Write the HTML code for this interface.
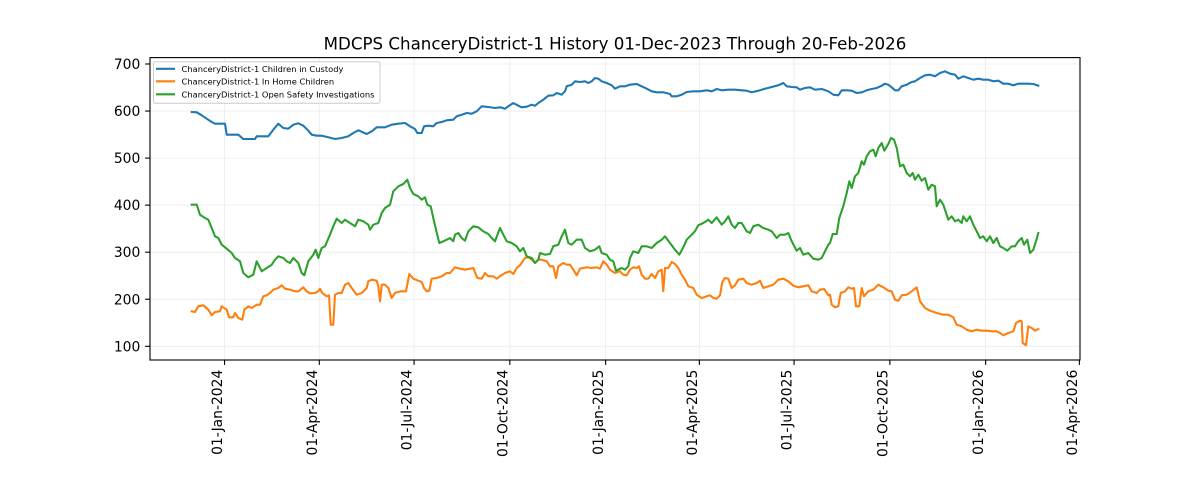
<!DOCTYPE html>
<html><head><meta charset="utf-8"><style>
html,body{margin:0;padding:0;background:#fff;}
svg{display:block;}
text{font-family:"DejaVu Sans","Liberation Sans",sans-serif;fill:#000;}
</style></head><body>
<svg width="1200" height="480" viewBox="0 0 1200 480" xmlns="http://www.w3.org/2000/svg">
<rect x="0" y="0" width="1200" height="480" fill="#fff"/>
<!-- grid -->
<g stroke="#ebebeb" stroke-width="0.8">
<line x1="224.55" y1="57.6" x2="224.55" y2="360"/>
<line x1="319.3" y1="57.6" x2="319.3" y2="360"/>
<line x1="414.05" y1="57.6" x2="414.05" y2="360"/>
<line x1="509.84" y1="57.6" x2="509.84" y2="360"/>
<line x1="605.63" y1="57.6" x2="605.63" y2="360"/>
<line x1="699.34" y1="57.6" x2="699.34" y2="360"/>
<line x1="794.09" y1="57.6" x2="794.09" y2="360"/>
<line x1="889.88" y1="57.6" x2="889.88" y2="360"/>
<line x1="985.67" y1="57.6" x2="985.67" y2="360"/>
<line x1="150" y1="346.3" x2="1080" y2="346.3"/>
<line x1="150" y1="299.25" x2="1080" y2="299.25"/>
<line x1="150" y1="252.2" x2="1080" y2="252.2"/>
<line x1="150" y1="205.15" x2="1080" y2="205.15"/>
<line x1="150" y1="158.1" x2="1080" y2="158.1"/>
<line x1="150" y1="111.05" x2="1080" y2="111.05"/>
<line x1="150" y1="64" x2="1080" y2="64"/>
</g>
<!-- series -->
<g fill="none" stroke-width="2.08" stroke-linejoin="round" stroke-linecap="square">
<polyline stroke="#1f77b4" points="191.7,112 196.7,112.3 201.7,115.3 206.7,118.7 211.7,122 215,123.7 225,123.7 226.7,134.7 238.3,134.7 243.3,139 255,139 256.7,136.3 268.3,136.3 273.3,129.7 278.3,123.7 283.3,128 288.3,128.7 293.3,124.7 298.3,123.3 303.3,125.7 308.3,130.7 311.7,134.7 316.7,135.7 321.7,135.7 328.3,137.3 335,139 341.7,138 348.3,136.3 353.3,133 358.3,130.3 366.7,134 371.7,131.3 376.7,127.3 385,127.3 391.7,124.7 398.3,123.7 405,123 410,126.3 415,129 417.3,133 421.7,133 424,126.3 428.3,125.7 433.3,126.3 436.7,123 441.7,122 446.7,120.3 453.3,119.7 456.7,116.3 461.7,114.7 466.7,113 471.7,113.7 476.7,111.3 481.7,106.3 488.3,107 495,108 500,107.3 505,108.7 508.3,106.3 513.3,103 518.3,105.7 521.7,107.3 526.7,106.7 531.7,104.7 535,105.7 538.3,103 543.3,99.7 548.3,95.7 553.3,95.3 556.7,93 561.7,94.7 565,91.3 566.7,86.3 571.7,84.7 575,81.3 580,82 585,81.3 588.3,83 591.7,81.3 595,78 598.3,78.7 601.7,81.3 606.7,83 611.7,85.3 615,88.7 620,86.3 625,86.3 630,84.7 636.7,84 641.7,86.3 646.7,88.7 651.7,91.3 656.7,92.3 663.3,92.3 670,94 671.7,96.3 676.7,96.3 681.7,94.7 686.7,92 693.3,91.3 700,91.3 706.7,90.3 711.7,91.3 716.7,89 721.7,90.3 728.3,89.7 735,89.7 741.7,90.3 746.7,90.7 751.7,92.3 758.3,90.7 765,88.7 771.7,87 778.3,85.3 783.3,83 786.7,86.3 791.7,87 796.7,87.3 800,89.7 805,88 810,87.3 815,89.7 821.7,89 828.3,91.3 833.3,94.7 838.3,95.3 841.7,90.3 846.7,90.3 851.7,90.7 856.7,93 861.7,92.3 866.7,90.3 871.7,89 876.7,88 881.7,85.7 885,83.7 888.3,84.7 891.7,87.3 895,90.3 898.3,90.3 901.7,86.3 906.7,84.7 911.7,82 915,81.3 920,78 925,75.3 930,74.7 935,76.3 940,73 945,71.3 950,73.7 955,74.7 958.3,78.7 963.3,76.3 968.3,78 973.3,79.7 978.3,78.7 983.3,79.7 988.3,79.7 993.3,81.3 998.3,80.7 1003.3,83.7 1008.3,83.7 1013.3,85.3 1018.3,83.7 1023.3,83.7 1028.3,83.7 1033.3,84 1038.3,85.7"/>
<polyline stroke="#ff7f0e" points="191.7,311.3 195,312 198.3,306.3 203.3,305.3 208.3,309.7 211.7,315.3 215,312 220,311.3 221.7,306.3 226.7,309.7 229,317.3 233.3,317.3 235,313 238.3,318 242.3,319.7 244.3,309.7 248.3,306.3 251.7,308 256.7,304.7 260,304.7 263.3,296.3 266.7,295.3 270,293 273.3,289.7 278.3,288 281.7,285.3 285,288.7 290,289.7 295,291.3 298.3,291.3 303.3,287.3 306.7,291.3 310,293.3 315,293 318.3,291.3 320,288.7 322.3,293 326.7,296.3 329,295.3 330.7,324.7 333.3,324.7 335,294.7 338.3,293 341.7,293 345,284.7 348.3,283 351.7,288 356.7,294.7 361.7,293 366.7,288 368.3,281.3 371.7,279.7 376.7,280.7 378.3,286.3 380,301.3 381.7,284.7 385,284.7 388.3,288 391.7,298 395,293 400,291.3 406,291.3 409.3,274 413.3,278.7 418.3,280.7 421.7,282 424,288 426.7,291.3 429.3,290.7 431.7,278.7 436.7,278 441.7,276.3 446.7,273 450,273 455,267.3 460,268.7 465,269.7 470,268.7 473.3,268 477.3,278 481.7,278.7 485,273 488.3,276.3 493.3,276.3 496.7,278.7 500,276.3 505,273 510,271.3 513.3,274 516.7,268 520,265.3 525,258 528.3,257.3 531.7,259.7 535,263 538.3,259.7 541.7,259.7 546.7,261.3 550,266.3 553.3,266.3 556,278 558.3,266.3 563.3,263 566.7,264.7 570,264.7 573.3,269.7 576.7,275.3 580,268.7 586.7,267.3 591.7,268 596.7,267.3 600,268.7 603.3,261.3 606.7,264.7 610,269.7 615,273 620,271.3 623.3,274.7 626.7,275.3 630,269.7 633.3,267.3 636.7,268 639,266.3 641.7,274.7 645,278.7 648.3,278.7 651.7,274 655,278 658.3,271.3 661.7,269.7 663.3,291.3 665,268 668.3,268 671.7,262 675,264 678.3,268 681.7,274.7 685,279.7 688.3,286.3 693.3,288 696.7,294.7 701.7,298 706.7,296.3 710,295.3 713.3,298 716.7,298.7 720,295.3 722.3,282 725,278 728.3,278.7 731.7,288 735,285.3 738.3,279.7 743.3,278.7 746.7,283 751.7,284.7 756.7,283 760,280.7 763.3,288 768.3,286.3 773.3,284.7 778.3,279.7 783.3,278.7 788.3,281.3 793.3,285.7 798.3,287.3 803.3,286.3 808.3,285.3 811.7,291.3 816.7,293 820,289.7 824.3,289 828.3,295.3 830,294.7 831.7,304.7 835,307.3 838.3,306.3 840.7,293 845,291.3 848.3,287.3 851.7,288.7 854,288 856,306.3 859.3,306.3 861.7,288 864,296.3 868.3,291.3 873.3,289.7 878.3,284.7 883.3,287.3 888.3,290.7 891.7,291.3 895,299.7 898.3,300.7 901.7,295.3 906.7,294.7 911.7,291.3 916.7,287.3 920,301.3 925,308 930,310.7 936.7,313 943.3,314.7 948.3,314.7 953.3,317.3 956.7,324.7 961.7,326.3 966.7,329.7 971.7,331.3 976.7,329.7 981.7,330.7 986.7,330.7 991.7,331.3 996.7,331.3 1000,333 1003.3,335.3 1008.3,333 1013.3,331.3 1016,323 1020,320.7 1021.7,321.3 1022.7,343 1026,345.3 1028.3,326.3 1031.7,328 1035,330.7 1038.3,329"/>
<polyline stroke="#2ca02c" points="191.7,204.7 196.7,204.7 200,214.7 205,218 208.3,219.7 211.7,228 215,236.3 218.3,238 221.7,244.7 226.7,248.7 231.7,253 235,258 240,261.3 243.3,273 248.3,277.3 253.3,274.7 256.7,261.3 261.7,271.3 266.7,268 271.7,264.7 275,259.7 278.3,256.3 283.3,258 286.7,261.3 290,263 293.3,258 298.3,263 301.7,273 304.3,275.3 308.3,261.3 313.3,254.7 315.7,249.7 318.3,258 321.7,248 325,246.3 330,234.7 333.3,226.3 336.7,218.7 341.7,223 345,219.7 350,223 355,226.3 358.3,219.7 363.3,221.3 368.3,224.7 370,229.7 373.3,224.7 378.3,223 381.7,213 385,208 390,204.7 393.3,191.3 398.3,186.3 403.3,184 407.3,179.7 410,188 413.3,194 418.3,196.3 421.7,199.7 425,197.3 427.3,204.7 430.7,206.3 433.3,218 436,229.7 439.3,243 443.3,241.3 446.7,239.7 450,238 453.3,241.3 455,234.7 458.3,233 461.7,238 465,240.7 468.3,231.3 473.3,226.3 478.3,227.3 483.3,231.3 488.3,234 491.7,238 495,241.3 500,228 503.3,234.7 506.7,241.3 511.7,243 516.7,246.3 520,251.3 523.3,248 526.7,256.3 531.7,258 535,263 538.3,259.7 540,253 545,254.7 550,254 553.3,246.3 558.3,244.7 561.7,236.3 565,229.7 568.3,243 571.7,244.7 576.7,239.7 581.7,239.7 585,248 590,251.3 595,249.7 599.3,246.3 601.7,253 606.7,254.7 610,259.7 613.3,261.3 616,270.7 621.7,268 625,269.7 628.3,266.3 630,258 633.3,251.3 638.3,253 641.7,246.3 646.7,246.3 651.7,248 656.7,243 661.7,239.7 665,236.3 668.3,240.7 671.7,245.3 675,249.7 679.3,254.7 683.3,247.3 686.7,239.7 691.7,234.7 695,231.3 698.3,225.3 703.3,223 708.3,219.7 711.7,223 716.7,217.3 721.7,224.7 725,221.3 728.3,216.3 731.7,224.7 735,228 738.3,223 741.7,223 746.7,231.3 750,233 753.3,226.3 758.3,224.7 763.3,228 768.3,229.7 771.7,231.3 776.7,238 780,234.7 785,234.7 788.3,233 791.7,241.3 796.7,250.7 800,248 803.3,254.7 808.3,253 813.3,258.7 818.3,259.7 821.7,258 825,251.3 828.3,244.7 830,243 832.7,234 836.7,234 839.3,218 843.3,206.3 846.7,193 849.3,181.3 851.7,188 855,176.3 858.3,173 861.7,161.3 864,164.7 866.7,156.3 870,151.3 873.3,149.7 875.7,156.3 878.3,148 881.7,143 884.3,150.7 888.3,144 891,138 894,139.7 896.7,148 900,166.3 903.3,164.7 906.7,173 910,176.3 912.7,173 915,179.7 918.3,174.7 921.7,180.7 925,178 928.3,189.7 931.7,184.7 935,186.3 936.7,206.3 940,199.7 943.3,204.7 948.3,219.7 951.7,216.3 955,221.3 958.3,219.7 961.7,223 963.3,216.3 966.7,221.3 970,216.3 973.3,224.7 976.7,231.3 980,238 983.3,236.3 986.7,241.3 990,236.3 993.3,243 996.7,238 1000,246.3 1003.3,248 1007.3,250.7 1011.7,246.3 1015,246.3 1018.3,241.3 1021.7,238 1024,244.7 1027.3,239.7 1030,253 1033.3,249.7 1036,241.3 1038.3,233"/>
</g>
<!-- spines -->
<rect x="150" y="57.6" width="930" height="302.4" fill="none" stroke="#000" stroke-width="1.11"/>
<!-- ticks -->
<g stroke="#000" stroke-width="1.11">
<line x1="224.55" y1="360" x2="224.55" y2="364.9"/>
<line x1="319.3" y1="360" x2="319.3" y2="364.9"/>
<line x1="414.05" y1="360" x2="414.05" y2="364.9"/>
<line x1="509.84" y1="360" x2="509.84" y2="364.9"/>
<line x1="605.63" y1="360" x2="605.63" y2="364.9"/>
<line x1="699.34" y1="360" x2="699.34" y2="364.9"/>
<line x1="794.09" y1="360" x2="794.09" y2="364.9"/>
<line x1="889.88" y1="360" x2="889.88" y2="364.9"/>
<line x1="985.67" y1="360" x2="985.67" y2="364.9"/>
<line x1="1079.4" y1="360" x2="1079.4" y2="364.9"/>
<line x1="145.1" y1="346.3" x2="150" y2="346.3"/>
<line x1="145.1" y1="299.25" x2="150" y2="299.25"/>
<line x1="145.1" y1="252.2" x2="150" y2="252.2"/>
<line x1="145.1" y1="205.15" x2="150" y2="205.15"/>
<line x1="145.1" y1="158.1" x2="150" y2="158.1"/>
<line x1="145.1" y1="111.05" x2="150" y2="111.05"/>
<line x1="145.1" y1="64" x2="150" y2="64"/>
</g>
<!-- y tick labels -->
<g font-size="13.89" text-anchor="end">
<text x="140.3" y="351.3">100</text>
<text x="140.3" y="304.25">200</text>
<text x="140.3" y="257.2">300</text>
<text x="140.3" y="210.15">400</text>
<text x="140.3" y="163.1">500</text>
<text x="140.3" y="116.05">600</text>
<text x="140.3" y="69">700</text>
</g>
<!-- x tick labels -->
<g font-size="13.89" text-anchor="end">
<text transform="translate(224.55,369.7) rotate(-90)" x="0" y="-2.5">01-Jan-2024</text>
<text transform="translate(319.3,369.7) rotate(-90)" x="0" y="-2.5">01-Apr-2024</text>
<text transform="translate(414.05,369.7) rotate(-90)" x="0" y="-2.5">01-Jul-2024</text>
<text transform="translate(509.84,369.7) rotate(-90)" x="0" y="-2.5">01-Oct-2024</text>
<text transform="translate(605.63,369.7) rotate(-90)" x="0" y="-2.5">01-Jan-2025</text>
<text transform="translate(699.34,369.7) rotate(-90)" x="0" y="-2.5">01-Apr-2025</text>
<text transform="translate(794.09,369.7) rotate(-90)" x="0" y="-2.5">01-Jul-2025</text>
<text transform="translate(889.88,369.7) rotate(-90)" x="0" y="-2.5">01-Oct-2025</text>
<text transform="translate(985.67,369.7) rotate(-90)" x="0" y="-2.5">01-Jan-2026</text>
<text transform="translate(1079.4,369.7) rotate(-90)" x="0" y="-2.5">01-Apr-2026</text>
</g>
<!-- title -->
<text x="615" y="49.6" font-size="16.67" text-anchor="middle">MDCPS ChanceryDistrict-1 History 01-Dec-2023 Through 20-Feb-2026</text>
<!-- legend -->
<rect x="153.5" y="61.7" width="226.5" height="41.6" rx="2" ry="2" fill="#fff" fill-opacity="0.8" stroke="#cccccc" stroke-width="1"/>
<g stroke-width="2.08">
<line x1="156" y1="68.8" x2="175" y2="68.8" stroke="#1f77b4"/>
<line x1="156" y1="81.3" x2="175" y2="81.3" stroke="#ff7f0e"/>
<line x1="156" y1="94.3" x2="175" y2="94.3" stroke="#2ca02c"/>
</g>
<g font-size="8.33">
<text x="181.5" y="71.8">ChanceryDistrict-1 Children in Custody</text>
<text x="181.5" y="84.3">ChanceryDistrict-1 In Home Children</text>
<text x="181.5" y="97.3">ChanceryDistrict-1 Open Safety Investigations</text>
</g>
</svg>
</body></html>
